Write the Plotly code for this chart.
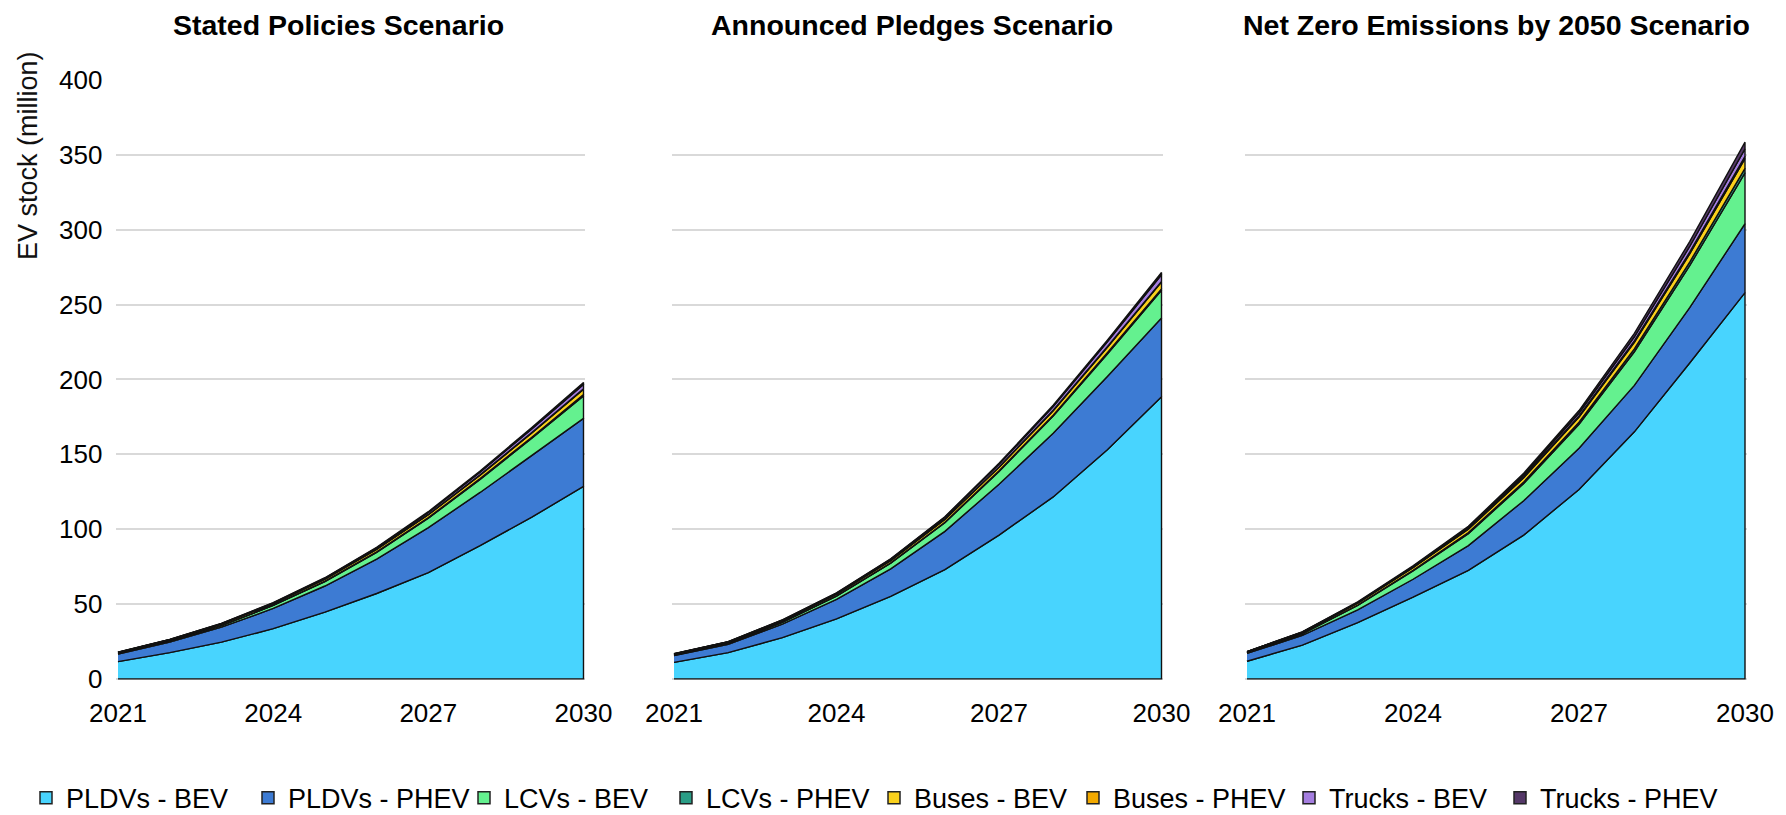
import numpy as np
import plotly.graph_objects as go

years = [2021, 2022, 2023, 2024, 2025, 2026, 2027, 2028, 2029, 2030]
x_tick_labels = [2021, 2024, 2027, 2030]
y_tick_values = [0, 50, 100, 150, 200, 250, 300, 350, 400]

series_names = ["PLDVs - BEV", "PLDVs - PHEV", "LCVs - BEV", "LCVs - PHEV",
                "Buses - BEV", "Buses - PHEV", "Trucks - BEV", "Trucks - PHEV"]
series_colors = ["#48D4FE", "#3D7BD3", "#64F18F", "#2A9D86",
                 "#FAD11C", "#F2A900", "#A57EE0", "#553868"]

scenario_titles = ["Stated Policies Scenario", "Announced Pledges Scenario",
                   "Net Zero Emissions by 2050 Scenario"]

# Stated Policies Scenario (million vehicles)
steps_pldv_bev = [11.5, 17.5, 24.5, 33.5, 44.5, 57, 71, 89, 108, 128.5]
steps_pldv_phev = [5, 7, 10, 13.5, 17.5, 23, 30, 35.5, 41, 45.5]
steps_lcv_bev = [0.4, 0.7, 1.1, 2.0, 3.0, 4.5, 6.3, 8.7, 11.7, 15]
steps_lcv_phev = [0.05, 0.07, 0.1, 0.15, 0.2, 0.3, 0.4, 0.5, 0.7, 0.9]
steps_bus_bev = [0.65, 0.8, 0.95, 1.1, 1.35, 1.6, 1.9, 2.3, 2.8, 3.4]
steps_bus_phev = [0.05, 0.06, 0.08, 0.1, 0.12, 0.15, 0.2, 0.25, 0.3, 0.4]
steps_truck_bev = [0.08, 0.15, 0.25, 0.4, 0.6, 0.9, 1.3, 1.8, 2.4, 3.0]
steps_truck_phev = [0.02, 0.04, 0.08, 0.15, 0.25, 0.4, 0.55, 0.75, 1.0, 1.3]

# Announced Pledges Scenario
aps_pldv_bev = [11, 17.5, 27.5, 40, 55, 73, 96, 121.5, 153, 188.5]
aps_pldv_phev = [4.5, 5.5, 9, 13, 18.5, 25.5, 34, 42.5, 49, 52.5]
aps_lcv_bev = [0.4, 0.7, 1.3, 2.3, 3.8, 5.8, 8.5, 11.5, 15, 18.5]
aps_lcv_phev = [0.05, 0.07, 0.1, 0.15, 0.2, 0.3, 0.45, 0.6, 0.8, 1.0]
aps_bus_bev = [0.65, 0.8, 1.0, 1.2, 1.5, 1.9, 2.4, 3.0, 3.7, 4.5]
aps_bus_phev = [0.05, 0.06, 0.08, 0.1, 0.13, 0.17, 0.22, 0.28, 0.35, 0.45]
aps_truck_bev = [0.08, 0.15, 0.3, 0.5, 0.8, 1.2, 1.8, 2.5, 3.3, 4.5]
aps_truck_phev = [0.02, 0.04, 0.08, 0.15, 0.25, 0.4, 0.6, 0.85, 1.1, 1.5]

# Net Zero Emissions by 2050 Scenario
nze_pldv_bev = [11.75, 22.5, 37.5, 54.5, 72.5, 96, 126.5, 165, 211, 258]
nze_pldv_phev = [5.25, 6.5, 8.5, 12, 16.5, 23, 27.5, 31, 37, 46]
nze_lcv_bev = [0.4, 1.0, 3.0, 5.5, 8.0, 11.5, 16, 22.5, 28, 34]
nze_lcv_phev = [0.05, 0.15, 0.3, 0.5, 0.7, 1.0, 1.4, 1.9, 2.4, 3.0]
nze_bus_bev = [0.65, 0.9, 1.3, 1.7, 2.2, 2.8, 3.5, 4.4, 5.4, 6.5]
nze_bus_phev = [0.05, 0.1, 0.15, 0.25, 0.35, 0.5, 0.7, 0.9, 1.2, 1.5]
nze_truck_bev = [0.05, 0.15, 0.35, 0.6, 0.9, 1.4, 2.0, 2.8, 3.8, 5.0]
nze_truck_phev = [0.03, 0.1, 0.25, 0.45, 0.7, 1.1, 1.6, 2.3, 3.3, 4.5]

scenarios = [
    [steps_pldv_bev, steps_pldv_phev, steps_lcv_bev, steps_lcv_phev,
     steps_bus_bev, steps_bus_phev, steps_truck_bev, steps_truck_phev],
    [aps_pldv_bev, aps_pldv_phev, aps_lcv_bev, aps_lcv_phev,
     aps_bus_bev, aps_bus_phev, aps_truck_bev, aps_truck_phev],
    [nze_pldv_bev, nze_pldv_phev, nze_lcv_bev, nze_lcv_phev,
     nze_bus_bev, nze_bus_phev, nze_truck_bev, nze_truck_phev],
]

W, H = 1786, 815
FONT = "Liberation Sans, Arial, sans-serif"

# layout geometry (pixels)
panel_px = [(110, 575.5), (666, 1153.5), (1239, 1737)]
title_cx = [330, 904, 1488]
y0_px, y400_px = 680, 73
xpad, ylo, yhi = 0.03, -0.8, 400.5
legend_entry_widths = [177, 171, 157, 163, 154, 171, 166, 190]

fig = go.Figure()

for i, series in enumerate(scenarios):
    sfx = "" if i == 0 else str(i + 1)
    bottom = np.zeros(len(years))
    for name, color, vals in zip(series_names, series_colors, series):
        top = bottom + np.array(vals, dtype=float)
        fig.add_trace(go.Scatter(
            x=years + years[::-1],
            y=list(top) + list(bottom[::-1]),
            fill="toself", fillcolor=color, mode="lines",
            line=dict(color="#111111", width=1.4),
            name=name, legendgroup=name, showlegend=False,
            hoverinfo="skip", xaxis="x" + sfx, yaxis="y" + sfx))
        bottom = top

# legend entries
for name, color, lw in zip(series_names, series_colors, legend_entry_widths):
    fig.add_trace(go.Scatter(
        x=[None], y=[None], mode="markers", name=name, legendgroup=name,
        legendwidth=lw,
        marker=dict(symbol="square", size=12, color=color,
                    line=dict(color="#222222", width=1.5))))

ppu = (y0_px - y400_px) / 400.0
ydom = [(H - (y0_px - ylo * ppu)) / H, (H - (y400_px - (yhi - 400) * ppu)) / H]

layout = dict(
    width=W, height=H, autosize=False,
    margin=dict(l=0, r=0, t=0, b=0),
    paper_bgcolor="white", plot_bgcolor="white",
    font=dict(family=FONT, color="#111111", size=25),
    showlegend=True,
    legend=dict(orientation="h", x=18 / W, xanchor="left",
                y=1 - 801 / H, yanchor="middle",
                font=dict(size=27, family=FONT, color="#000000"),
                itemwidth=30, tracegroupgap=0, bgcolor="rgba(0,0,0,0)"),
)

for i, (a, b) in enumerate(panel_px):
    sfx = "" if i == 0 else str(i + 1)
    per = (b - a) / (years[-1] - years[0])
    layout["xaxis" + sfx] = dict(
        domain=[(a - xpad * per) / W, (b + xpad * per) / W],
        range=[years[0] - xpad, years[-1] + xpad],
        tickvals=x_tick_labels, ticktext=[str(v) for v in x_tick_labels],
        showgrid=False, zeroline=False, showline=False, ticks="",
        tickfont=dict(size=26, family=FONT, color="#000000"),
        ticklabelstandoff=15, anchor="y" + sfx, automargin=False)
    layout["yaxis" + sfx] = dict(
        domain=ydom, range=[ylo, yhi], tickvals=y_tick_values,
        showgrid=True, gridcolor="#D9D9D9", gridwidth=2,
        zeroline=False, showline=False, ticks="",
        showticklabels=(i == 0),
        tickfont=dict(size=26, family=FONT, color="#000000"),
        ticklabelstandoff=13, anchor="x" + sfx, automargin=False)

fig.update_layout(**layout)

annotations = []
for cx, title in zip(title_cx, scenario_titles):
    annotations.append(dict(
        text="<b>" + title + "</b>", xref="paper", yref="paper",
        x=cx / W, y=1.0, xanchor="center", yanchor="top", borderpad=0,
        showarrow=False, font=dict(size=28.5, family=FONT, color="#000000")))
annotations.append(dict(
    text="EV stock (million)", xref="paper", yref="paper",
    x=20 / W, y=1 - 150 / H, xanchor="center", yanchor="middle",
    textangle=-90, showarrow=False, borderpad=0,
    font=dict(size=27, family=FONT, color="#111111")))
fig.update_layout(annotations=annotations)

fig.write_html("out.html")
